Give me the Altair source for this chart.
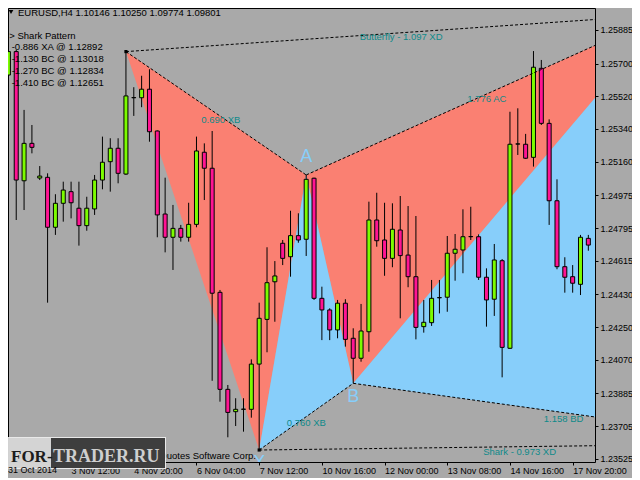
import altair as alt
import pandas as pd

# ---------------- data ----------------
bars = list(range(75))
opens = [1.25637, 1.25766, 1.25055, 1.25261, 1.25070, 1.25074, 1.24799, 1.24931, 1.24995, 1.24904,
         1.24808, 1.24900, 1.25059, 1.25160, 1.25234, 1.25092, 1.25512, 1.25512, 1.25559, 1.25329,
         1.24872, 1.24744, 1.24793, 1.24744, 1.24815, 1.25212, 1.25124, 1.24441, 1.23907, 1.23784,
         1.23797, 1.23797, 1.24046, 1.24292, 1.24499, 1.24711, 1.24637, 1.24753, 1.24733, 1.25069,
         1.24408, 1.24344, 1.24234, 1.24381, 1.24188, 1.24078, 1.24224, 1.24839, 1.24729, 1.24628,
         1.24784, 1.24646, 1.24527, 1.24252, 1.24274, 1.24411, 1.24414, 1.24656, 1.24674, 1.24747,
         1.24747, 1.24524, 1.24403, 1.24615, 1.24133, 1.25257, 1.25256, 1.25184, 1.25674, 1.25371,
         1.24945, 1.24582, 1.24527, 1.24485, 1.24738]
highs = [1.25791, 1.25775, 1.25445, 1.25362, 1.25136, 1.25096, 1.24981, 1.25050, 1.25050, 1.25050,
         1.24967, 1.25087, 1.25298, 1.25289, 1.25289, 1.25766, 1.25570, 1.25633, 1.25669, 1.25332,
         1.25072, 1.24922, 1.24812, 1.24934, 1.25298, 1.25261, 1.25329, 1.24454, 1.23931, 1.23858,
         1.23858, 1.24072, 1.24384, 1.24689, 1.24613, 1.24729, 1.24890, 1.24876, 1.25087, 1.25072,
         1.24472, 1.24353, 1.24399, 1.24403, 1.24243, 1.24377, 1.24940, 1.24989, 1.24934, 1.24931,
         1.24971, 1.24916, 1.24861, 1.24399, 1.24509, 1.24509, 1.24751, 1.24762, 1.24898, 1.24912,
         1.24760, 1.24573, 1.24707, 1.24624, 1.25435, 1.25454, 1.25313, 1.25769, 1.25720, 1.25393,
         1.25063, 1.24634, 1.24591, 1.24757, 1.24757]
lows = [1.25401, 1.24839, 1.24894, 1.25206, 1.25059, 1.24384, 1.24757, 1.24830, 1.24848, 1.24698,
        1.24780, 1.24867, 1.25008, 1.24995, 1.25041, 1.25087, 1.25412, 1.25460, 1.25270, 1.24744,
        1.24661, 1.24564, 1.24720, 1.24720, 1.24799, 1.24949, 1.23954, 1.23839, 1.23643, 1.23705,
        1.23674, 1.23751, 1.23573, 1.24111, 1.24279, 1.24591, 1.24527, 1.24714, 1.24641, 1.24399,
        1.24178, 1.24178, 1.24188, 1.24142, 1.23940, 1.24059, 1.24114, 1.24692, 1.24532, 1.24579,
        1.24298, 1.24469, 1.24182, 1.24219, 1.24256, 1.24325, 1.24334, 1.24505, 1.24546, 1.24729,
        1.24509, 1.24252, 1.24311, 1.23973, 1.24129, 1.25197, 1.25175, 1.25133, 1.25362, 1.24812,
        1.24568, 1.24439, 1.24439, 1.24426, 1.24670]
closes = [1.25766, 1.25059, 1.25261, 1.25239, 1.25081, 1.24799, 1.24931, 1.25004, 1.24934, 1.24808,
          1.24904, 1.25059, 1.25157, 1.25234, 1.25096, 1.25522, 1.25513, 1.25559, 1.25325, 1.24867,
          1.24744, 1.24793, 1.24744, 1.24815, 1.25219, 1.25124, 1.24436, 1.23907, 1.23780, 1.23797,
          1.23798, 1.24046, 1.24298, 1.24494, 1.24531, 1.24628, 1.24753, 1.24729, 1.25063, 1.24408,
          1.24344, 1.24234, 1.24381, 1.24182, 1.24078, 1.24228, 1.24839, 1.24725, 1.24628, 1.24788,
          1.24643, 1.24527, 1.24248, 1.24276, 1.24408, 1.24412, 1.24656, 1.24678, 1.24747, 1.24748,
          1.24524, 1.24399, 1.24619, 1.24138, 1.25256, 1.25258, 1.25179, 1.25680, 1.25371, 1.24945,
          1.24582, 1.24524, 1.24491, 1.24744, 1.24701]

tick_bars = [0, 8, 16, 24, 32, 40, 48, 56, 64, 72]
tick_labels = ["31 Oct 2014", "3 Nov 12:00", "4 Nov 20:00", "6 Nov 04:00", "7 Nov 12:00",
               "10 Nov 16:00", "12 Nov 00:00", "13 Nov 08:00", "14 Nov 16:00", "17 Nov 20:00"]
price_ticks = [1.25885, 1.25700, 1.25520, 1.25340, 1.25160, 1.24975, 1.24795,
               1.24615, 1.24430, 1.24250, 1.24070, 1.23885, 1.23705, 1.23525]

# harmonic pattern points (bar index, price)
point_names = ["X0", "X", "A", "B", "C", "D", "Dbf"]
point_bars = [15, 32, 38, 44, 84, 99, 99]
point_prices = [1.25766, 1.23573, 1.25087, 1.23940, 1.25977, 1.23610, 1.26014]

tri_names = ["t1", "t2", "t3", "t4"]
tri_vertices = [("X0", "X", "A"), ("X", "A", "B"), ("A", "B", "C"), ("B", "C", "D")]
tri_kind = ["red", "blue", "red", "blue"]

seg_pairs = [("X0", "A"), ("X", "B"), ("A", "C"), ("B", "D"), ("X0", "Dbf"), ("X", "D")]
seg_texts = ["0.690 XB", "0.760 XB", "1.776 AC", "1.158 BD", "Butterfly - 1.097 XD", "Shark - 0.973 XD"]
seg_t = [0.526, 0.502, 0.501, 0.488, 0.418, 0.496]
seg_dy = [4, 6, 5, 6, 4, 5]

letter_names = ["A", "B", "X"]
letter_dy = [-13, 19, 18]

info_lines = ["> Shark Pattern", "-0.886 XA @ 1.12892", "-1.130 BC @ 1.13018",
              "-1.270 BC @ 1.12834", "-1.410 BC @ 1.12651"]
title_text = "EURUSD,H4  1.10146 1.10250 1.09774 1.09801"

# ---------------- styles ----------------
BG = "#A9A9A9"
SALMON = "#FA8072"
SKY = "#87CEFA"
GREEN = "#7CFC00"
PINK = "#FF1493"
TEAL = "#0E8A8A"
FONT = "Liberation Sans"

W, H = 587, 454
xs = alt.Scale(domain=[0.5875, 74.2125], nice=False, zero=False)
ys = alt.Scale(domain=[1.23507, 1.26006], nice=False, zero=False)

label_expr = "[" + ",".join("'%s'" % s for s in tick_labels) + "][round(datum.value / 8)]"
x_axis = alt.Axis(values=tick_bars[1:], labelExpr=label_expr, title=None, grid=False, domain=False,
                  tickSize=3, tickColor="black", labelAlign="left", labelBaseline="top",
                  labelPadding=1, labelFont=FONT, labelFontSize=9, labelColor="black",
                  labelOverlap=False, labelBound=False, labelFlush=False)
y_axis = alt.Axis(orient="right", values=price_ticks, format=".5f", title=None, grid=False,
                  domain=False, tickSize=3, tickColor="black", labelPadding=2, labelFont=FONT,
                  labelFontSize=9, labelColor="black", labelOverlap=False, labelBound=False)


def X(f):
    return alt.X(f, type="quantitative", scale=xs, axis=x_axis)


def Y(f):
    return alt.Y(f, type="quantitative", scale=ys, axis=y_axis, stack=None)


df = pd.DataFrame({"bar": bars, "open": opens, "high": highs, "low": lows, "close": closes})
df["dir"] = ["up" if c >= o else "down" for o, c in zip(opens, closes)]

pts = {n: (b, p) for n, b, p in zip(point_names, point_bars, point_prices)}

# triangles as areas between two piecewise-linear edges
rows = []
for name, verts, kind in zip(tri_names, tri_vertices, tri_kind):
    v = sorted((pts[n] for n in verts), key=lambda t: t[0])
    (xa, pa), (xb, pb), (xc, pc) = v
    pm = pa + (pc - pa) * (xb - xa) / (xc - xa)
    rows += [dict(tri=name, kind=kind, bar=xa, lo=pa, hi=pa),
             dict(tri=name, kind=kind, bar=xb, lo=pb, hi=pm),
             dict(tri=name, kind=kind, bar=xc, lo=pc, hi=pc)]
tri_df = pd.DataFrame(rows)

layers = []
for kind, col in (("red", SALMON), ("blue", SKY)):
    layers.append(
        alt.Chart(tri_df[tri_df.kind == kind]).mark_area(clip=True, color=col, opacity=1,
                                                         interpolate="linear")
        .encode(x=X("bar"), y=Y("lo"), y2="hi:Q", detail="tri:N"))

# candles
layers.append(alt.Chart(df).mark_rule(color="black", strokeWidth=1, clip=True)
              .encode(x=X("bar"), y=Y("low"), y2="high:Q"))
layers.append(alt.Chart(df).mark_bar(size=4, stroke="black", strokeWidth=1, clip=True)
              .encode(x=X("bar"), y=Y("open"), y2="close:Q",
                      color=alt.Color("dir:N", scale=alt.Scale(domain=["up", "down"],
                                                               range=[GREEN, PINK]), legend=None)))

# dotted pattern lines
seg_rows = []
for k, (a, b) in enumerate(seg_pairs):
    for n in (a, b):
        seg_rows.append(dict(seg=k, bar=pts[n][0], price=pts[n][1]))
seg_df = pd.DataFrame(seg_rows)
layers.append(alt.Chart(seg_df).mark_line(clip=True, color="black", strokeWidth=1, strokeDash=[3, 2])
              .encode(x=X("bar"), y=Y("price"), detail="seg:N"))

# small anchor squares
anch = pd.DataFrame({"bar": [pts["X0"][0], pts["X"][0]], "price": [pts["X0"][1], pts["X"][1]]})
layers.append(alt.Chart(anch).mark_square(size=10, color="black", opacity=1, clip=True)
              .encode(x=X("bar"), y=Y("price")))

# segment labels
for (a, b), txt, t, dy in zip(seg_pairs, seg_texts, seg_t, seg_dy):
    bx = pts[a][0] + t * (pts[b][0] - pts[a][0])
    py = pts[a][1] + t * (pts[b][1] - pts[a][1])
    layers.append(alt.Chart(pd.DataFrame({"bar": [bx], "price": [py], "txt": [txt]}))
                  .mark_text(color=TEAL, font=FONT, fontSize=9.5, dy=dy, align="center",
                             baseline="middle", clip=True)
                  .encode(x=X("bar"), y=Y("price"), text="txt:N"))

# point letters
for n, dy in zip(letter_names, letter_dy):
    layers.append(alt.Chart(pd.DataFrame({"bar": [pts[n][0]], "price": [pts[n][1]], "txt": [n]}))
                  .mark_text(color=SKY, font=FONT, fontSize=18, dy=dy, align="center",
                             baseline="alphabetic", clip=True)
                  .encode(x=X("bar"), y=Y("price"), text="txt:N"))

one = pd.DataFrame({"k": [0]})

# copyright text (under watermark)
layers.append(alt.Chart(one).mark_text(font=FONT, fontSize=9.5, color="black", align="right",
                                       baseline="alphabetic")
              .encode(x=alt.value(248), y=alt.value(450.5),
                      text=alt.value("MetaTrader 4, \u00a9 2001-2014 MetaQuotes Software Corp.")))

# watermark box
layers.append(alt.Chart(one).mark_rect(color="#f0f0f0", opacity=0.9)
              .encode(x=alt.value(-3), x2=alt.value(158), y=alt.value(429), y2=alt.value(461)))
layers.append(alt.Chart(one).mark_rect(color="#d2d2d2", opacity=0.9)
              .encode(x=alt.value(-2), x2=alt.value(43), y=alt.value(430), y2=alt.value(460)))
layers.append(alt.Chart(one).mark_rect(color="#353535", opacity=0.95)
              .encode(x=alt.value(43), x2=alt.value(157), y=alt.value(430), y2=alt.value(460)))
layers.append(alt.Chart(one).mark_text(font="Liberation Serif", fontWeight="bold", fontSize=17,
                                       color="#1c1c1c", align="left", baseline="alphabetic")
              .encode(x=alt.value(3), y=alt.value(453.5), text=alt.value("FOR-")))
layers.append(alt.Chart(one).mark_text(font="Liberation Serif", fontWeight="bold", fontSize=18,
                                       color="#cfcfcf", align="left", baseline="alphabetic")
              .encode(x=alt.value(45), y=alt.value(453.5), text=alt.value("TRADER.RU")))

# title and info
layers.append(alt.Chart(one).mark_point(shape="triangle-down", filled=True, color="black",
                                        size=22, opacity=1)
              .encode(x=alt.value(3), y=alt.value(4)))
layers.append(alt.Chart(one).mark_text(font=FONT, fontSize=9.5, color="black", align="left",
                                       baseline="middle")
              .encode(x=alt.value(10), y=alt.value(5), text=alt.value(title_text)))
info_x = [1.3, 3.7, 3.7, 3.7, 3.7]
for k, (line, ix) in enumerate(zip(info_lines, info_x)):
    layers.append(alt.Chart(one).mark_text(font=FONT, fontSize=9.5, color="black", align="left",
                                           baseline="middle")
                  .encode(x=alt.value(ix), y=alt.value(27.6 + 11.85 * k), text=alt.value(line)))

# first time label (its bar lies just left of the visible window)
layers.append(alt.Chart(one).mark_text(font=FONT, fontSize=9, color="black", align="left",
                                       baseline="top")
              .encode(x=alt.value(0), y=alt.value(458), text=alt.value(tick_labels[0])))

chart = alt.layer(*layers).properties(
    width=W, height=H,
    autosize=alt.AutoSizeParams(type="none"),
    padding={"left": 0, "top": 0, "right": 37, "bottom": 16},
).configure(background=BG).configure_view(stroke="black", strokeWidth=1)

chart.save("out.html", embed_options={"renderer": "svg", "actions": False})
